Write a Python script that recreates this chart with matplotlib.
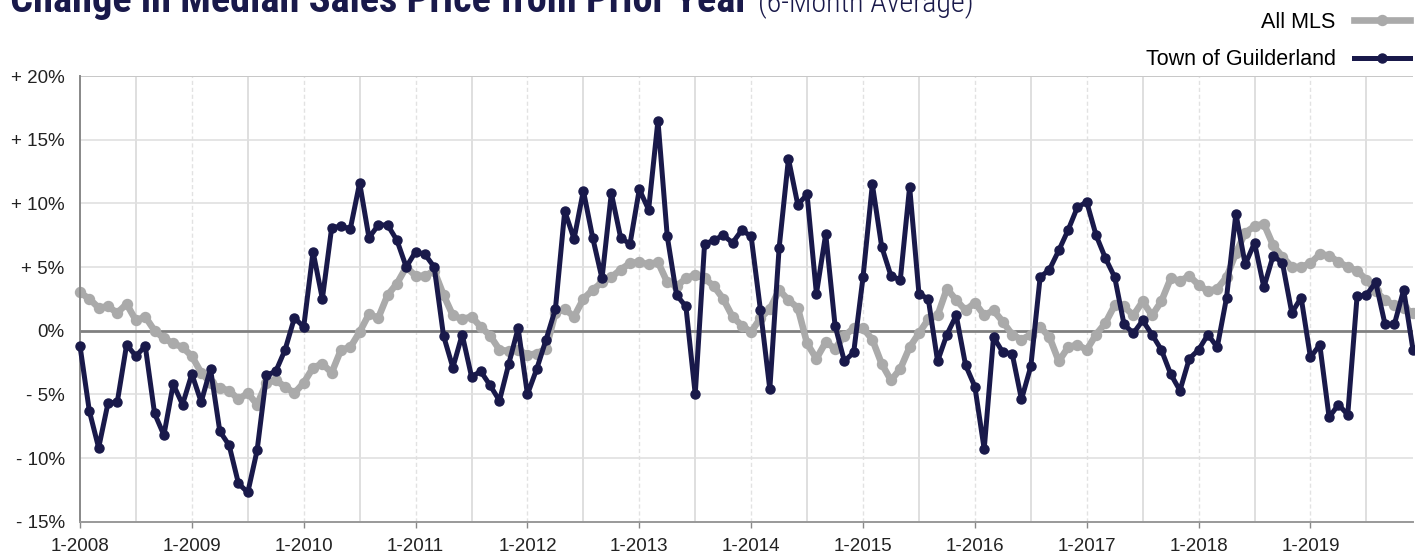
import numpy as np
import matplotlib
matplotlib.use("Agg")
import matplotlib.pyplot as plt
from matplotlib.lines import Line2D

# DATA (monthly, 1-2008 .. 12-2019, percent change)
years = list(range(2008, 2020))
tick_labels = ["1-%d" % y for y in years]

town = [
    -1.2, -6.3, -9.2, -5.7, -5.6, -1.1, -2.0, -1.2, -6.5, -8.2, -4.2, -5.8,
    -3.4, -5.6, -3.0, -7.9, -9.0, -12.0, -12.7, -9.4, -3.5, -3.2, -1.5, 1.0,
    0.3, 6.2, 2.5, 8.1, 8.2, 8.0, 11.6, 7.3, 8.3, 8.3, 7.1, 5.0,
    6.2, 6.0, 5.0, -0.4, -2.9, -0.3, -3.6, -3.2, -4.3, -5.5, -2.6, 0.2,
    -5.0, -3.0, -0.7, 1.7, 9.4, 7.2, 11.0, 7.3, 4.1, 10.8, 7.3, 6.8,
    11.1, 9.5, 16.5, 7.4, 2.8, 1.9, -5.0, 6.8, 7.1, 7.5, 6.9, 7.9,
    7.4, 1.6, -4.6, 6.5, 13.5, 9.9, 10.7, 2.9, 7.6, 0.4, -2.4, -1.7,
    4.2, 11.5, 6.6, 4.3, 4.0, 11.3, 2.9, 2.5, -2.4, -0.3, 1.2, -2.7,
    -4.4, -9.3, -0.5, -1.7, -1.8, -5.4, -2.8, 4.2, 4.8, 6.3, 7.9, 9.7,
    10.1, 7.5, 5.7, 4.2, 0.5, -0.2, 0.8, -0.3, -1.5, -3.4, -4.7, -2.2,
    -1.5, -0.3, -1.3, 2.6, 9.2, 5.2, 6.9, 3.4, 5.9, 5.3, 1.4, 2.6,
    -2.1, -1.1, -6.8, -5.8, -6.6, 2.7, 2.8, 3.8, 0.5, 0.5, 3.2, -1.5,
]

all_mls = [
    3.0, 2.5, 1.8, 1.9, 1.4, 2.1, 0.8, 1.1, 0.0, -0.6, -1.0, -1.3,
    -2.0, -3.3, -4.1, -4.5, -4.7, -5.4, -4.9, -5.8, -4.1, -3.9, -4.4, -4.9,
    -4.1, -2.9, -2.6, -3.3, -1.5, -1.3, -0.1, 1.3, 1.0, 2.8, 3.7, 5.0,
    4.3, 4.3, 4.7, 2.8, 1.2, 0.9, 1.1, 0.3, -0.4, -1.5, -1.6, -1.5,
    -1.9, -1.8, -1.4, 1.4, 1.7, 1.1, 2.5, 3.2, 3.8, 4.2, 4.8, 5.3,
    5.4, 5.2, 5.4, 3.8, 3.5, 4.1, 4.4, 4.1, 3.5, 2.5, 1.1, 0.4,
    -0.1, 1.0, 1.7, 3.2, 2.4, 1.8, -1.0, -2.2, -0.9, -1.4, -0.4, 0.2,
    0.2, -0.7, -2.6, -3.9, -3.0, -1.3, -0.2, 0.9, 1.2, 3.3, 2.4, 1.6,
    2.2, 1.2, 1.6, 0.7, -0.3, -0.7, -0.3, 0.3, -0.5, -2.4, -1.3, -1.1,
    -1.5, -0.3, 0.6, 2.0, 1.9, 1.2, 2.3, 1.2, 2.3, 4.1, 3.9, 4.3,
    3.6, 3.1, 3.3, 4.2, 6.1, 7.7, 8.2, 8.4, 6.7, 5.8, 5.0, 5.0,
    5.3, 6.0, 5.9, 5.4, 5.0, 4.7, 4.0, 3.1, 2.4, 2.0, 1.8, 1.4,
]

y_ticks = [-15, -10, -5, 0, 5, 10, 15, 20]
y_labels = ["- 15%", "- 10%", "- 5%", "0%", "+ 5%", "+ 10%", "+ 15%", "+ 20%"]

navy = "#19194a"
grey = "#aaaaaa"
W, H = 1415, 553

plt.rcParams["font.family"] = ["Liberation Sans", "DejaVu Sans"]

fig = plt.figure(figsize=(W / 100, H / 100), dpi=100)
ax = fig.add_axes([80 / W, 1 - 521.7 / H, 1333 / W, 445.7 / H])

x = np.arange(len(town))

# grid: solid at mid-year, dashed at year start
for i in range(6, len(town), 12):
    ax.axvline(i, color="#d9d9d9", lw=1.2, zorder=0)
for i in range(12, len(town), 12):
    ax.axvline(i, color="#e2e2e2", lw=1.0, ls=(0, (3, 2)), zorder=0)
for v in y_ticks[1:]:
    if v != 0:
        ax.axhline(v, color="#e0e0e0", lw=1.2, zorder=0)
ax.axhline(20, color="#c8c8c8", lw=1.4, zorder=0)
ax.axhline(0, color="#808080", lw=2.0, zorder=1)

ax.plot(x, all_mls, color=grey, lw=4.8, marker="o", ms=7.2, zorder=2, clip_on=False)
ax.plot(x, town, color=navy, lw=3.6, marker="o", ms=6.5, zorder=3, clip_on=False)

ax.set_xlim(0, len(town) - 1)
ax.set_ylim(-15, 20)
ax.set_yticks(y_ticks)
ax.set_yticklabels(y_labels)
ax.set_xticks(list(range(0, len(town), 12)))
ax.set_xticklabels(tick_labels)
ax.tick_params(axis="y", length=0, pad=11, labelsize=13.5, colors="#222222")
ax.tick_params(axis="x", length=4, width=1, color="#888888", pad=8, labelsize=13.5,
               labelcolor="#222222")

for s in ["top", "right"]:
    ax.spines[s].set_visible(False)
ax.spines["left"].set_color("#888888")
ax.spines["bottom"].set_color("#999999")
ax.spines["left"].set_linewidth(1.4)
ax.spines["bottom"].set_linewidth(1.4)

# legend
handles = [
    Line2D([], [], color=grey, lw=4.8, marker="o", ms=7.2),
    Line2D([], [], color=navy, lw=3.6, marker="o", ms=6.5),
]
fig.legend(handles, ["All MLS", "Town of Guilderland"], loc="upper right",
           bbox_to_anchor=(1410 / W, 1 - 12 / H), frameon=False, markerfirst=False,
           fontsize=15.5, handlelength=2.6, handletextpad=0.85, labelspacing=0.75,
           borderaxespad=0, borderpad=0)

# title, partly cut at the top edge like the source
cond = ["Roboto Condensed", "Liberation Sans Narrow", "Liberation Sans", "DejaVu Sans"]

size = 24
t1 = fig.text(10 / W, 1 - 12 / H, "Change in Median Sales Price from Prior Year",
              fontsize=size, color=navy, family=cond, fontweight="bold", va="baseline")
for _ in range(4):
    fig.canvas.draw()
    size = size * 740 / t1.get_window_extent().width
    t1.set_fontsize(size)
fig.canvas.draw()
bb = t1.get_window_extent()

size2 = size
t2 = fig.text((bb.x1 + 9) / W, 1 - 12 / H, "(6-Month Average)", fontsize=size2,
              color=navy, family=cond, fontweight="light", va="baseline")
for _ in range(3):
    fig.canvas.draw()
    size2 = size2 * 215 / t2.get_window_extent().width
    t2.set_fontsize(size2)

fig.savefig("out.png", dpi=100)
